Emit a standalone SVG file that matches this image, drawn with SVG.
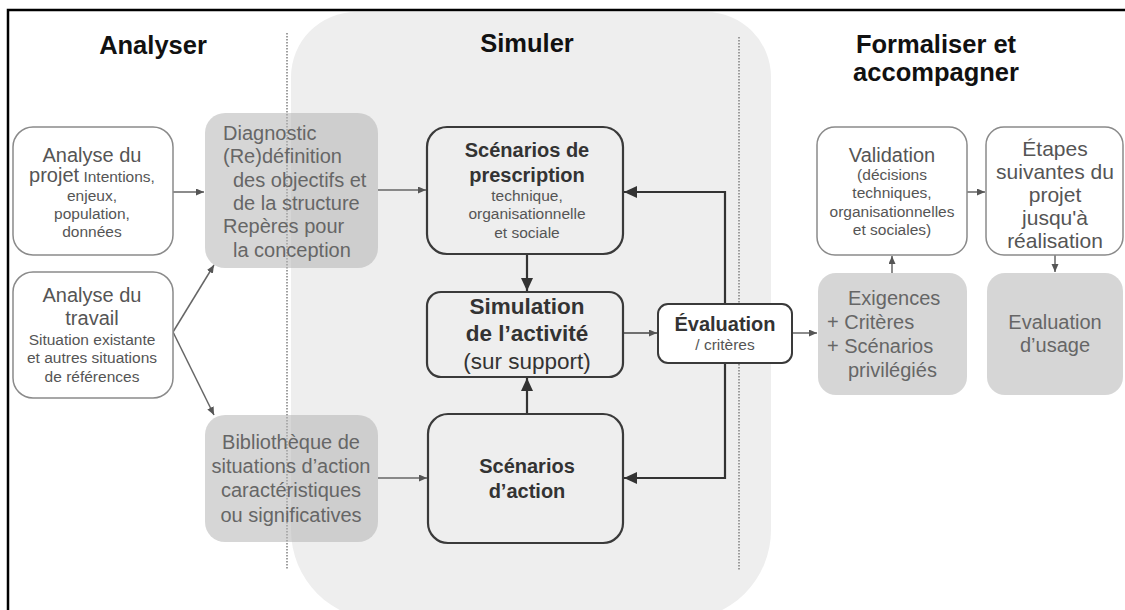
<svg xmlns="http://www.w3.org/2000/svg" width="1125" height="610" viewBox="0 0 1125 610">
<defs>
<style>
text{font-family:"Liberation Sans",Arial,sans-serif;text-anchor:middle}
.title{font-size:25.5px;font-weight:bold;fill:#111}
.wbox{fill:#fff;stroke:#8a8a8a;stroke-width:1.5}
.gbox{fill:#b4b4b4;fill-opacity:.55;stroke:none}
.sbox{fill:#eeeeee;stroke:#3a3a3a;stroke-width:2.2}
.ebox{fill:#fff;stroke:#3a3a3a;stroke-width:2}
.big{font-size:20px;fill:#555}
.sm{font-size:15.5px;fill:#555}
.gt{font-size:20px;fill:#666}
.st{font-size:20px;font-weight:bold;fill:#333}
.ss{font-size:15.5px;fill:#555}
.lft{text-anchor:start}
.thin{fill:none;stroke:#666;stroke-width:1.5}
.thick{fill:none;stroke:#333;stroke-width:2.2}
.dot{stroke:#888;stroke-width:1.6;stroke-dasharray:1.5 1.5}
</style>
<marker id="ag" markerUnits="userSpaceOnUse" markerWidth="9" markerHeight="8" refX="8" refY="3.5" orient="auto"><path d="M0,0 L8,3.5 L0,7 z" fill="#555"/></marker>
<marker id="ad" markerUnits="userSpaceOnUse" markerWidth="14" markerHeight="12" refX="13" refY="6" orient="auto"><path d="M0,0 L13,6 L0,12 z" fill="#333"/></marker>
</defs>
<rect width="1125" height="610" fill="#fff"/>
<path d="M8,610 V10 H1125" fill="none" stroke="#000" stroke-width="2.5"/>
<path id="panel" d="M356,12 H706 A65 65 0 0 1 771,77 V530 A90 90 0 0 1 681,620 H381 A90 90 0 0 1 291,530 V77 A65 65 0 0 1 356,12 Z" fill="#eeeeee"/>
<line class="dot" x1="287" y1="33" x2="287" y2="570"/>
<line class="dot" x1="739" y1="37" x2="739" y2="570"/>
<text class="title" x="153" y="54">Analyser</text>
<text class="title" x="527" y="52">Simuler</text>
<text class="title" x="936" y="53">Formaliser et</text>
<text class="title" x="936" y="81">accompagner</text>
<g id="connectors">
<line class="thin" x1="173" y1="192" x2="204" y2="192" marker-end="url(#ag)"/>
<line class="thin" x1="173" y1="332" x2="214" y2="265" marker-end="url(#ag)"/>
<line class="thin" x1="173" y1="332" x2="214" y2="415" marker-end="url(#ag)"/>
<line class="thin" x1="378" y1="190" x2="426" y2="190" marker-end="url(#ag)"/>
<line class="thin" x1="378" y1="478" x2="427" y2="478" marker-end="url(#ag)"/>
<line class="thick" x1="527" y1="254" x2="527" y2="291" marker-end="url(#ad)"/>
<line class="thick" x1="527" y1="414" x2="527" y2="378" marker-end="url(#ad)"/>
<line class="thin" x1="623" y1="333" x2="657" y2="333" marker-end="url(#ag)" style="stroke:#444"/>
<polyline class="thick" points="725,304 725,192 624,192" marker-end="url(#ad)"/>
<polyline class="thick" points="725,363 725,478 624,478" marker-end="url(#ad)"/>
<line class="thin" x1="792" y1="333" x2="817" y2="333" marker-end="url(#ag)"/>
<line class="thin" x1="892" y1="273" x2="892" y2="256" marker-end="url(#ag)"/>
<line class="thin" x1="967" y1="192" x2="985" y2="192" marker-end="url(#ag)"/>
<line class="thin" x1="1055" y1="255" x2="1055" y2="272" marker-end="url(#ag)"/>
</g>
<g id="analyse-projet">
<rect class="wbox" x="13" y="127" width="160" height="128" rx="20"/>
<text class="big" x="92" y="162">Analyse du</text>
<text x="92" y="182"><tspan class="big">projet</tspan><tspan class="sm"> Intentions,</tspan></text>
<text class="sm" x="92" y="201">enjeux,</text>
<text class="sm" x="92" y="219">population,</text>
<text class="sm" x="92" y="237">données</text>
</g>
<g id="analyse-travail">
<rect class="wbox" x="13" y="272" width="160" height="126" rx="20"/>
<text class="big" x="92" y="302">Analyse du</text>
<text class="big" x="92" y="325">travail</text>
<text class="sm" x="92" y="345">Situation existante</text>
<text class="sm" x="92" y="363">et autres situations</text>
<text class="sm" x="92" y="382">de références</text>
</g>
<g id="diagnostic">
<rect class="gbox" x="205" y="113" width="173" height="155" rx="20"/>
<text class="gt lft" x="223" y="140">Diagnostic</text>
<text class="gt lft" x="223" y="163">(Re)définition</text>
<text class="gt lft" x="233" y="187">des objectifs et</text>
<text class="gt lft" x="233" y="210">de la structure</text>
<text class="gt lft" x="223" y="233">Repères pour</text>
<text class="gt lft" x="233" y="257">la conception</text>
</g>
<g id="bibliotheque">
<rect class="gbox" x="205" y="415" width="173" height="127" rx="20"/>
<text class="gt" x="291" y="449">Bibliothèque de</text>
<text class="gt" x="291" y="473">situations d’action</text>
<text class="gt" x="291" y="497">caractéristiques</text>
<text class="gt" x="291" y="522">ou significatives</text>
</g>
<g id="scenarios-prescription">
<rect class="sbox" x="427" y="127" width="196" height="127" rx="20"/>
<text class="st" x="527" y="157">Scénarios de</text>
<text class="st" x="527" y="182">prescription</text>
<text class="ss" x="527" y="201">technique,</text>
<text class="ss" x="527" y="219">organisationnelle</text>
<text class="ss" x="527" y="238">et sociale</text>
</g>
<g id="simulation">
<rect class="sbox" x="427" y="292" width="196" height="85" rx="14"/>
<text class="st" x="527" y="314" style="font-size:22.5px">Simulation</text>
<text class="st" x="527" y="341" style="font-size:22.5px">de l’activité</text>
<text x="527" y="369" style="font-size:22.5px;fill:#333">(sur support)</text>
</g>
<g id="scenarios-action">
<rect class="sbox" x="428" y="414" width="195" height="129" rx="20"/>
<text class="st" x="527" y="473">Scénarios</text>
<text class="st" x="527" y="498">d’action</text>
</g>
<g id="evaluation">
<rect class="ebox" x="658" y="304" width="134" height="59" rx="10"/>
<text class="st" x="725" y="331">Évaluation</text>
<text class="ss" x="725" y="350">/ critères</text>
</g>
<g id="validation">
<rect class="wbox" x="817" y="127" width="150" height="128" rx="18"/>
<text class="big" x="892" y="162">Validation</text>
<text class="sm" x="892" y="180">(décisions</text>
<text class="sm" x="892" y="198">techniques,</text>
<text class="sm" x="892" y="217">organisationnelles</text>
<text class="sm" x="892" y="235">et sociales)</text>
</g>
<g id="etapes">
<rect class="wbox" x="986" y="127" width="137" height="128" rx="18"/>
<text class="big" x="1055" y="156" style="font-size:21px">Étapes</text>
<text class="big" x="1055" y="179" style="font-size:21px">suivantes du</text>
<text class="big" x="1055" y="202" style="font-size:21px">projet</text>
<text class="big" x="1055" y="225" style="font-size:21px">jusqu'à</text>
<text class="big" x="1055" y="248" style="font-size:21px">réalisation</text>
</g>
<g id="exigences">
<rect class="gbox" x="818" y="273" width="149" height="122" rx="18"/>
<text class="gt lft" x="848" y="305">Exigences</text>
<text class="gt lft" x="827" y="329">+ Critères</text>
<text class="gt lft" x="827" y="353">+ Scénarios</text>
<text class="gt lft" x="848" y="377">privilégiés</text>
</g>
<g id="evaluation-usage">
<rect class="gbox" x="987" y="273" width="136" height="122" rx="18"/>
<text class="gt" x="1055" y="329">Evaluation</text>
<text class="gt" x="1055" y="352">d’usage</text>
</g>
</svg>
